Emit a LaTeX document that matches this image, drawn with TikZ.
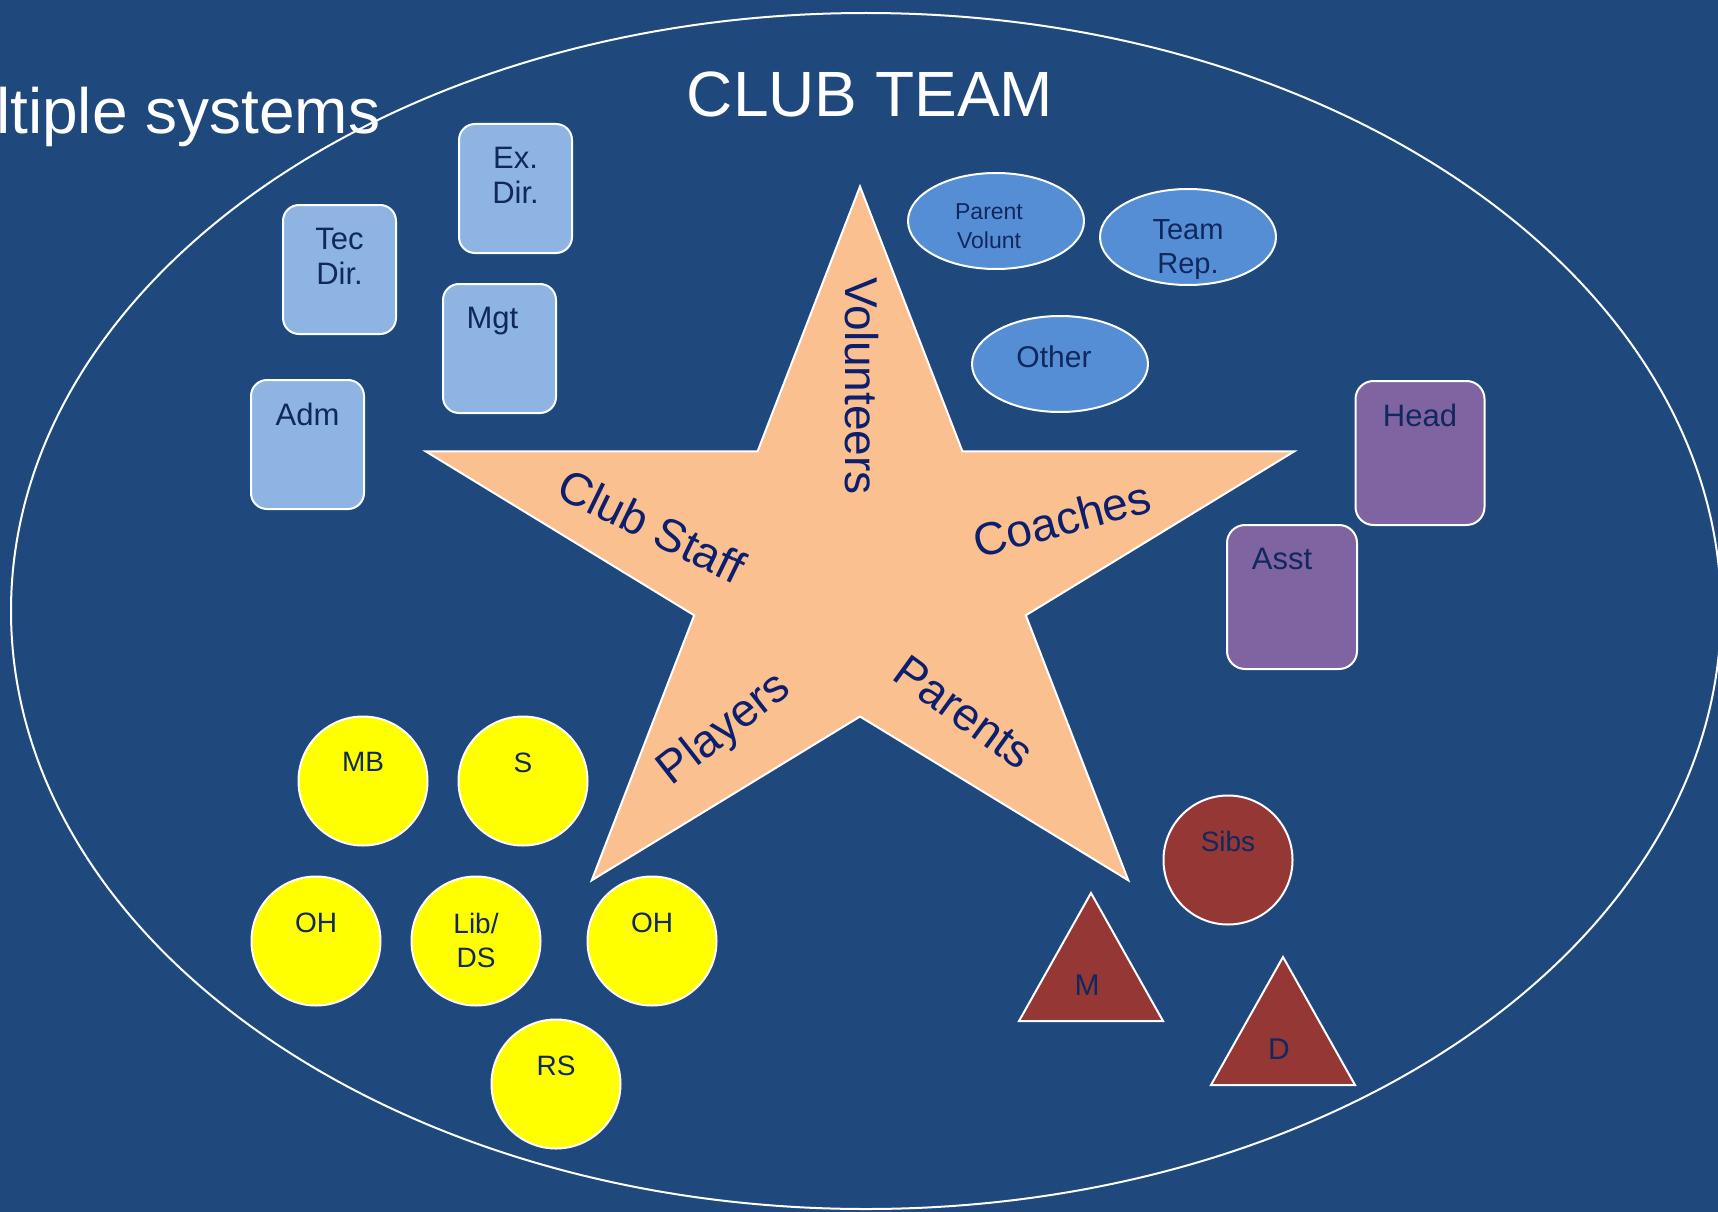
\documentclass[tikz,border=0pt]{standalone}
\usepackage{fontspec}
\setmainfont{Liberation Sans}
\usetikzlibrary{shapes.geometric}

\definecolor{bgblue}{HTML}{1F497D}
\definecolor{staffblue}{HTML}{8EB4E3}
\definecolor{volblue}{HTML}{558ED5}
\definecolor{coachpurple}{HTML}{8064A2}
\definecolor{parentred}{HTML}{953735}
\definecolor{starpeach}{HTML}{FAC090}
\definecolor{ballyellow}{HTML}{FFFF00}
\definecolor{labelnavy}{HTML}{10285E}
\definecolor{starnavy}{HTML}{0C1E6E}

\tikzset{
  whiteedge/.style={draw=white, line width=2pt},
  staffbox/.style={whiteedge, fill=staffblue, rounded corners=16pt,
    minimum width=113pt, minimum height=129pt, inner sep=0pt},
  coachbox/.style={whiteedge, fill=coachpurple, rounded corners=18pt,
    minimum width=129pt, minimum height=144pt, inner sep=0pt},
  volunteer/.style={whiteedge, ellipse, fill=volblue,
    minimum width=176pt, minimum height=96pt, inner sep=0pt},
  player/.style={whiteedge, circle, fill=ballyellow, minimum size=129pt, inner sep=0pt},
  sibling/.style={whiteedge, circle, fill=parentred, minimum size=129pt, inner sep=0pt},
  parentshape/.style={whiteedge, fill=parentred},
  toptext/.style={anchor=north, inner sep=0pt, align=center, text=labelnavy},
  boxtext/.style={toptext, yshift=-24pt, font=\fontsize{31}{35}\selectfont},
  balltext/.style={toptext, yshift=-37pt, font=\fontsize{28}{34}\selectfont},
  ovaltext/.style={toptext, yshift=-31pt},
  parenttext/.style={inner sep=0pt, text=labelnavy, font=\fontsize{30}{34}\selectfont},
  starlabel/.style={inner sep=0pt, text=starnavy, font=\fontsize{46}{50}\selectfont},
  headline/.style={inner sep=0pt, text=white, font=\fontsize{64}{70}\selectfont}
}

\begin{document}
\begin{tikzpicture}[x=1pt, y=-1pt]
  % slide background
  \useasboundingbox (0,0) rectangle (1718,1212);
  \fill[bgblue] (0,0) rectangle (1718,1212);

  % big ellipse round the whole team
  \draw[white, line width=2pt] (866,611) ellipse [x radius=855, y radius=598];

  % five pointed star, a bit wider than tall
  \filldraw[fill=starpeach, whiteedge, shift={(860,570)}, xscale=1.19]
    (-90:383.5) -- (-54:146.5) -- (-18:383.5) -- (18:146.5)
    -- (54:383.5) -- (90:146.5) -- (126:383.5) -- (162:146.5)
    -- (198:383.5) -- (234:146.5) -- cycle;

  % names on the star arms
  \node[starlabel, rotate=-90] (volunteers) at (862,386) {Volunteers};
  \node[starlabel, rotate=-26] (clubstaff) at (652,526) {Club Staff};
  \node[starlabel, rotate=15] (coaches) at (1062,519) {Coaches};
  \node[starlabel, rotate=38] (players) at (725,730) {Players};
  \node[starlabel, rotate=-36] (parents) at (964,712) {Parents};

  % club staff boxes
  \node[staffbox, label={[boxtext]north:Ex.\\Dir.}] (exdir) at (515.5,188.5) {};
  \node[staffbox, label={[boxtext]north:Tec\\Dir.}] (tecdir) at (339.5,269.5) {};
  \node[staffbox, label={[boxtext, xshift=-7pt]north:Mgt}] (mgt) at (499.5,348.5) {};
  \node[staffbox, label={[boxtext]north:Adm}] (adm) at (307.5,444.5) {};

  % volunteer ellipses
  \node[volunteer, label={[ovaltext, xshift=-7pt, font=\fontsize{23}{29}\selectfont]north:Parent\\Volunt}]
    (parentvol) at (996,221) {};
  \node[volunteer, label={[ovaltext, font=\fontsize{29}{34}\selectfont]north:Team\\Rep.}]
    (teamrep) at (1188,237) {};
  \node[volunteer, label={[ovaltext, xshift=-6pt, font=\fontsize{30}{34}\selectfont]north:Other}]
    (other) at (1060,364) {};

  % coaches
  \node[coachbox, label={[boxtext]north:Head}] (head) at (1420,453) {};
  \node[coachbox, minimum width=130pt, label={[boxtext, xshift=-10pt]north:Asst}] (asst) at (1292,597) {};

  % players on the court
  \node[player, label={[balltext]north:MB}] (mb) at (363,781) {};
  \node[player, label={[balltext]north:S}] (setter) at (523,781) {};
  \node[player, label={[balltext]north:OH}] (ohleft) at (316,941) {};
  \node[player, label={[balltext]north:Lib/\\DS}] (libero) at (476,941) {};
  \node[player, label={[balltext]north:OH}] (ohright) at (652,941) {};
  \node[player, label={[balltext]north:RS}] (rs) at (556,1084) {};

  % family: siblings, mother and father
  \node[sibling, label={[balltext]north:Sibs}] (sibs) at (1228,860) {};
  \foreach \name/\x/\y/\who in {mum/1091/893/M, dad/1283/957/D} {
    \draw[parentshape] (\x,\y) -- ++(72,128) -- ++(-144,0) -- cycle;
    \node[parenttext] (\name) at (\x-4,\y+92) {\who};
  }

  % headings
  \node[headline, anchor=base] (clubteam) at (870,117) {CLUB TEAM};
  \node[headline, anchor=base west] (systems) at (-4,134) {ltiple systems};

\end{tikzpicture}
\end{document}
